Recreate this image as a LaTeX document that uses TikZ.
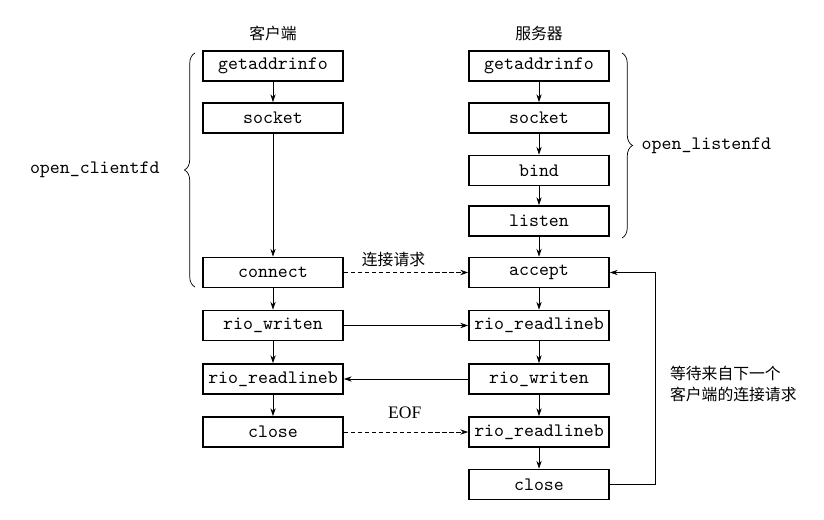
\documentclass[tikz,border=0pt]{standalone}
\usepackage{fontspec}
\setmainfont{Liberation Serif}
\newfontfamily\cjk{Noto Sans CJK SC}
\usetikzlibrary{arrows.meta,decorations.pathreplacing}
\begin{document}
\begin{tikzpicture}[x=0.02cm,y=-0.02cm,
  box/.style={draw,line width=0.9pt,minimum width=2.8cm,minimum height=0.6cm,inner sep=0pt,font=\fontsize{10.8}{12}\ttfamily},
  lbl/.style={font=\fontsize{9}{12.5}\cjk,inner sep=1pt},
  dsh/.style={dash pattern=on 2.5pt off 1.5pt},
  >={Stealth[length=4.5pt,width=3pt]}]
\useasboundingbox (0,0) rectangle (824,520);
\pgfmathsetmacro{\cx}{273}
\pgfmathsetmacro{\sx}{539}
% client
\node[lbl](chead) at (\cx,33) {客户端};
\node[box](cgai) at (\cx,66) {getaddrinfo};
\node[box](csock) at (\cx,118) {socket};
\node[box](cconn) at (\cx,272.5) {connect};
\node[box](cwr) at (\cx,325.5) {rio\_writen};
\node[box](crd) at (\cx,379) {rio\_readlineb};
\node[box](ccl) at (\cx,432) {close};
% server
\node[lbl](shead) at (\sx,33) {服务器};
\node[box](sgai) at (\sx,66) {getaddrinfo};
\node[box](ssock) at (\sx,118) {socket};
\node[box](sbind) at (\sx,170.5) {bind};
\node[box](slis) at (\sx,221) {listen};
\node[box](sacc) at (\sx,272.5) {accept};
\node[box](srd) at (\sx,325.5) {rio\_readlineb};
\node[box](swr) at (\sx,379) {rio\_writen};
\node[box](srd2) at (\sx,432) {rio\_readlineb};
\node[box](scl) at (\sx,484.5) {close};
\foreach \a/\b in {cgai/csock,csock/cconn,cconn/cwr,cwr/crd,crd/ccl,sgai/ssock,ssock/sbind,sbind/slis,slis/sacc,sacc/srd,srd/swr,swr/srd2,srd2/scl}
  \draw[->](\a)--(\b);
\draw[->,dsh](cconn)--(sacc)node[lbl,pos=0.4,above=2pt]{连接请求};
\draw[->](cwr)--(srd);
\draw[->](swr)--(crd);
\draw[->,dsh](ccl)--(srd2)node[pos=0.49,above=4pt,font=\fontsize{10}{11}\selectfont]{EOF};
\draw[->](scl.east)--++(46,0)|-(sacc.east);
\node[lbl,anchor=west,align=left](wait) at (668,384) {等待来自下一个\\客户端的连接请求};
% braces
\draw[decorate,decoration={brace,amplitude=6pt}](195,287)--(195,53)
  node[midway,left=20pt,inner sep=0pt,font=\fontsize{10.8}{12}\ttfamily]{open\_clientfd};
\draw[decorate,decoration={brace,amplitude=6pt}](622,53)--(622,238)
  node[midway,right=11pt,inner sep=0pt,font=\fontsize{10.8}{12}\ttfamily]{open\_listenfd};
\end{tikzpicture}
\end{document}
